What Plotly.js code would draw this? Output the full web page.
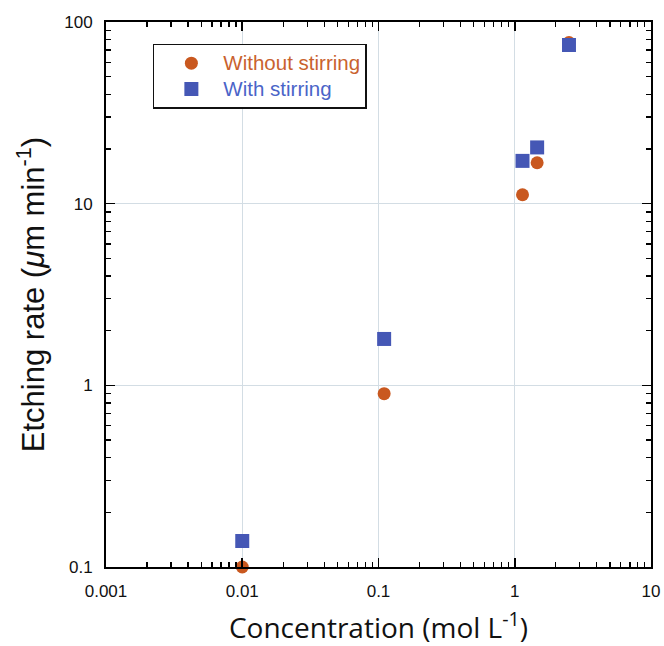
<!DOCTYPE html>
<html>
<head>
<meta charset="utf-8">
<script src="https://cdn.plot.ly/plotly-3.0.1.min.js"></script>
<style>html,body{margin:0;padding:0;background:#fff;}</style>
</head>
<body>
<div id="chart" style="width:664px;height:646px;"></div>
<script>
// Data
const concWithout = [0.01, 0.11, 1.14, 1.46, 2.5];
const rateWithout = [0.1, 0.90, 11.2, 16.8, 77];
const concWith = [0.01, 0.11, 1.14, 1.46, 2.5];
const rateWith = [0.139, 1.80, 17.2, 20.4, 74.7];
const xTickVals = [0.001, 0.01, 0.1, 1, 10];
const xTickText = ['0.001', '0.01', '0.1', '1', '10'];
const yTickVals = [0.1, 1, 10, 100];
const yTickText = ['0.1', '1', '10', '100'];

// minor tick positions (2..9 within each decade)
function minorTicks(decades) {
  const out = [];
  decades.slice(0, -1).forEach(d => { for (let k = 2; k <= 9; k++) out.push(+(k * d).toPrecision(3)); });
  return out;
}

const orange = '#c9581f';
const blue = '#4557b5';

const traces = [
  {
    x: concWithout, y: rateWithout, type: 'scatter', mode: 'markers',
    name: '<span style="color:#c9622e;font-size:20.5px">Without stirring</span>',
    marker: {symbol: 'circle', size: 13, color: orange},
    cliponaxis: false
  },
  {
    x: concWith, y: rateWith, type: 'scatter', mode: 'markers',
    name: '<span style="color:#4a64c8;font-size:20.5px">With stirring</span>',
    marker: {symbol: 'square', size: 14, color: blue},
    cliponaxis: false
  },
  {
    x: [], y: [], type: 'scatter', mode: 'markers', xaxis: 'x2', yaxis: 'y2',
    showlegend: false, hoverinfo: 'skip'
  }
];

const axisCommon = {
  type: 'log',
  showline: true, linecolor: '#000', linewidth: 2,
  mirror: 'ticks',
  tickmode: 'array',
  ticks: 'inside', ticklen: 9, tickwidth: 1.6, tickcolor: '#000',
  showgrid: true, gridcolor: '#d3dde4', gridwidth: 1,
  zeroline: false,
  tickfont: {family: 'Liberation Sans, Arial, sans-serif', size: 17, color: '#111'}
};
const minorAxis = {
  type: 'log', tickmode: 'array',
  ticks: 'inside', ticklen: 5, tickwidth: 1.3, tickcolor: '#000',
  showticklabels: false, showgrid: false, zeroline: false,
  showline: true, linecolor: '#000', linewidth: 2, mirror: 'ticks'
};

const layout = {
  width: 664, height: 646,
  margin: {l: 106, r: 13, t: 22, b: 79},
  paper_bgcolor: '#fff', plot_bgcolor: '#fff',
  showlegend: true,
  xaxis: Object.assign({}, axisCommon, {
    range: [-3, 1],
    tickvals: xTickVals, ticktext: xTickText,
    ticklabelstandoff: 8,
    title: {text: 'Concentration (mol L<sup>-1</sup>)', standoff: 18,
            font: {family: 'Open Sans, sans-serif', size: 28, color: '#111'}}
  }),
  yaxis: Object.assign({}, axisCommon, {
    range: [-1, 2],
    tickvals: yTickVals, ticktext: yTickText,
    ticklabelstandoff: 8,
    title: {text: 'Etching rate (<i>μ</i>m min<sup>-1</sup>)', standoff: 10,
            font: {family: 'Liberation Sans, Arial, sans-serif', size: 31, color: '#111'}}
  }),
  xaxis2: Object.assign({}, minorAxis, {
    range: [-3, 1], overlaying: 'x', anchor: 'y2', side: 'bottom',
    tickvals: minorTicks(xTickVals)
  }),
  yaxis2: Object.assign({}, minorAxis, {
    range: [-1, 2], overlaying: 'y', anchor: 'x2', side: 'left',
    tickvals: minorTicks(yTickVals)
  }),
  legend: {
    x: 0.086, y: 0.96, xanchor: 'left', yanchor: 'top',
    bgcolor: '#fff', bordercolor: '#111', borderwidth: 1.5,
    itemwidth: 54, indentation: 5,
    font: {family: 'Liberation Sans, Arial, sans-serif', size: 17.5}
  }
};

Plotly.newPlot('chart', traces, layout, {displayModeBar: false, staticPlot: true});
</script>
</body>
</html>
